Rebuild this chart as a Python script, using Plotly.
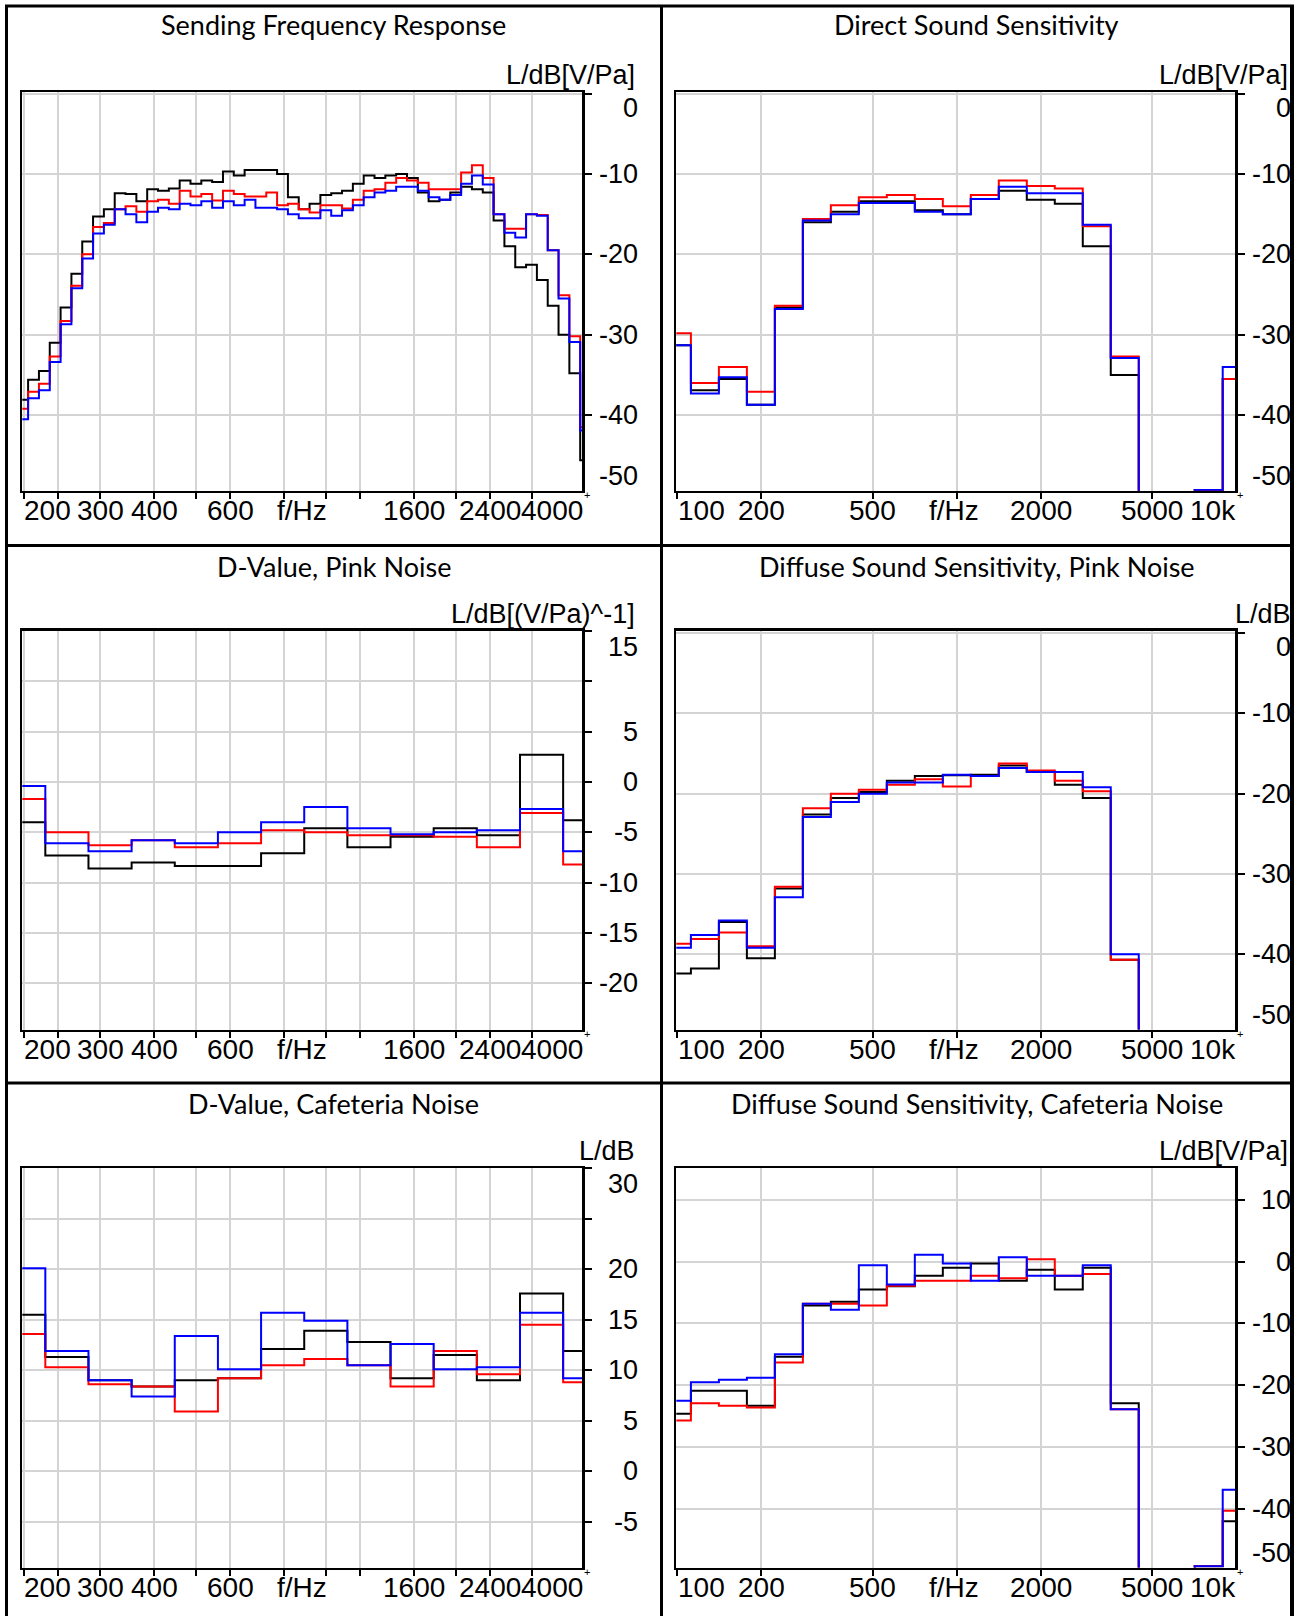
import math
import plotly.graph_objects as go

W, H = 1294, 1616

# ---------------- data ----------------
# Panel 1: Sending Frequency Response, 1/12-octave bands (centre = 1000*2^(k/12))
sfr_band_k = list(range(-28, 25))
sfr_black = [-38.1, -35.6, -34.5, -31.0, -26.6, -22.4, -18.4, -15.3, -14.4, -12.4,
             -12.5, -13.4, -11.9, -12.1, -11.8, -10.8, -11.2, -10.8, -11.0, -9.7,
             -10.2, -9.5, -9.5, -9.5, -10.0, -12.9, -14.4, -13.7, -12.6, -12.4,
             -12.1, -11.2, -10.2, -10.5, -10.2, -10.0, -10.5, -12.3, -13.4, -13.2,
             -12.3, -11.6, -11.9, -12.3, -15.8, -19.0, -21.6, -21.3, -23.2, -26.4,
             -30.0, -34.8, -45.6]
sfr_red = [-39.2, -37.1, -36.1, -32.7, -28.3, -23.9, -20.0, -16.6, -16.1, -14.4,
           -14.0, -14.7, -13.4, -13.2, -13.7, -12.1, -12.8, -12.5, -13.3, -12.1,
           -12.5, -12.8, -12.8, -12.3, -13.9, -13.7, -14.4, -14.8, -13.9, -13.9,
           -14.3, -13.2, -12.1, -11.9, -11.1, -10.5, -10.8, -11.1, -11.9, -11.9,
           -11.9, -9.8, -8.9, -10.5, -15.0, -16.8, -16.8, -15.0, -15.1, -19.5,
           -25.1, -30.2, -41.5]
sfr_blue = [-40.5, -37.9, -36.9, -33.4, -28.7, -24.2, -20.5, -17.4, -16.3, -14.4,
            -15.0, -16.0, -14.7, -14.2, -14.4, -13.7, -13.9, -13.4, -14.2, -13.4,
            -13.9, -13.2, -14.2, -14.2, -14.4, -15.0, -15.5, -15.5, -14.5, -15.2,
            -14.5, -13.9, -12.9, -12.3, -12.1, -11.6, -11.6, -12.1, -12.9, -13.2,
            -12.6, -11.2, -10.2, -11.3, -15.0, -17.3, -17.9, -15.0, -15.2, -19.5,
            -25.5, -30.9, -41.9]

# 1/3-octave band centres
bands_narrow = [200, 250, 315, 400, 500, 630, 800, 1000, 1250, 1600, 2000, 2500, 3150, 4000]
bands_wide = [100, 125, 160, 200, 250, 315, 400, 500, 630, 800, 1000, 1250, 1600,
              2000, 2500, 3150, 4000, 5000, 6300, 8000, 10000]

# Panel 2: Direct Sound Sensitivity (-80 = below the axis floor)
dss_black = [-31.3, -36.9, -35.5, -38.7, -26.6, -16.0, -14.7, -13.4, -13.4, -14.5, -15.0,
             -13.1, -12.1, -13.2, -13.7, -19.0, -35.0, -80, -80, -49.3, -35.5]
dss_red = [-29.8, -36.0, -34.0, -37.1, -26.4, -15.6, -13.9, -12.9, -12.6, -13.1, -14.0,
           -12.6, -10.8, -11.5, -11.8, -16.5, -32.7, -80, -80, -49.3, -35.5]
dss_blue = [-31.3, -37.3, -35.3, -38.7, -26.8, -15.8, -15.0, -13.6, -13.6, -14.7, -15.0,
            -13.1, -11.6, -12.4, -12.4, -16.3, -32.9, -80, -80, -49.3, -34.0]

# Panel 3: D-Value, Pink Noise
dpk_black = [-4.0, -7.3, -8.6, -8.0, -8.35, -8.35, -7.1, -4.6, -6.5, -5.45, -4.6, -5.3, 2.7, -3.8]
dpk_red = [-1.7, -5.0, -6.3, -5.8, -6.5, -6.1, -4.8, -5.0, -5.3, -5.3, -5.45, -6.5, -3.1, -8.2]
dpk_blue = [-0.4, -6.1, -6.9, -5.8, -6.1, -5.0, -4.0, -2.5, -4.6, -5.2, -5.0, -4.8, -2.7, -6.9]

# Panel 4: Diffuse Sound Sensitivity, Pink Noise
dfp_black = [-42.4, -41.8, -36.0, -40.5, -31.8, -22.6, -20.55, -19.8, -18.4, -17.8, -17.7,
             -17.65, -16.5, -17.3, -18.9, -20.55, -40.7, -80, -80, -80, -80]
dfp_red = [-38.7, -38.1, -37.3, -39.0, -31.6, -21.8, -20.0, -19.5, -18.9, -18.2, -19.1,
           -17.8, -16.25, -17.1, -18.4, -19.7, -40.7, -80, -80, -80, -80]
dfp_blue = [-39.2, -37.6, -35.8, -39.2, -32.9, -22.9, -21.05, -20.0, -18.6, -18.6, -17.65,
            -17.8, -16.8, -17.3, -17.3, -19.2, -40.0, -80, -80, -80, -80]

# Panel 5: D-Value, Cafeteria Noise
dcf_black = [15.5, 11.3, 9.0, 8.4, 9.0, 9.2, 12.1, 13.9, 12.8, 9.2, 11.5, 9.0, 17.6, 11.9]
dcf_red = [13.6, 10.3, 8.6, 8.4, 5.9, 9.2, 10.5, 11.1, 10.5, 8.4, 11.9, 9.6, 14.5, 8.8]
dcf_blue = [20.1, 11.9, 9.0, 7.4, 13.4, 10.1, 15.7, 14.9, 10.5, 12.6, 10.1, 10.3, 15.7, 9.2]

# Panel 6: Diffuse Sound Sensitivity, Cafeteria Noise
dfc_black = [-24.6, -20.9, -20.9, -23.3, -15.4, -7.1, -6.5, -4.5, -4.0, -2.3, -1.0, -0.3,
             -3.1, -1.3, -4.5, -1.0, -22.9, -80, -80, -49.3, -42.0]
dfc_red = [-25.7, -22.9, -23.3, -23.6, -16.3, -6.8, -6.8, -7.1, -3.9, -3.1, -3.1, -2.3,
           -2.7, 0.4, -2.3, -2.0, -23.9, -80, -80, -49.3, -40.3]
dfc_blue = [-22.5, -19.5, -19.1, -18.8, -15.0, -6.8, -7.8, -0.6, -3.7, 1.1, -0.3, -3.1,
            0.7, -2.3, -2.3, -0.6, -23.9, -80, -80, -49.3, -36.9]

titles = ["Sending Frequency Response", "Direct Sound Sensitivity",
          "D-Value, Pink Noise", "Diffuse Sound Sensitivity, Pink Noise",
          "D-Value, Cafeteria Noise", "Diffuse Sound Sensitivity, Cafeteria Noise"]
unit_labels = ["L/dB[V/Pa]", "L/dB[V/Pa]", "L/dB[(V/Pa)^-1]", "L/dB[V/Pa]",
               "L/dB", "L/dB[V/Pa]"]

# x axes
narrow_range_hz = [198, 3930]
narrow_grid_hz = [200, 240, 300, 400, 500, 600, 800, 1000, 1200, 1600, 2000, 2400, 3000]
narrow_label_hz = [200, 300, 400, 600, 880, 1600, 2400, 4000]
narrow_label_txt = ["200", "300", "400", "600", "f/Hz", "1600", "2400", "4000"]
wide_range_hz = [99.5, 9860]
wide_grid_hz = [100, 200, 500, 1000, 2000, 5000]
wide_label_hz = [100, 200, 500, 975, 2000, 5000, 10000]
wide_label_txt = ["100", "200", "500", "f/Hz", "2000", "5000", "10k"]

# y axes
y_ranges = [[-49.4, 0.2], [-49.4, 0.2], [-24.6, 15], [-49.4, 0.3], [-9.55, 30], [-49.5, 15.1]]
y_ticks = [[0, -10, -20, -30, -40], [0, -10, -20, -30, -40],
           [15, 10, 5, 0, -5, -10, -15, -20], [0, -10, -20, -30, -40],
           [30, 25, 20, 15, 10, 5, 0, -5], [10, 0, -10, -20, -30, -40]]
y_labels = [[0, -10, -20, -30, -40, -50], [0, -10, -20, -30, -40, -50],
            [15, 5, 0, -5, -10, -15, -20], [0, -10, -20, -30, -40, -50],
            [30, 20, 15, 10, 5, 0, -5], [10, 0, -10, -20, -30, -40, -50]]

# ---------------- helpers ----------------
def twelfth_edges(ks):
    lo = [1000 * 2 ** ((k - 0.5) / 12) for k in ks]
    return lo + [1000 * 2 ** ((ks[-1] + 0.5) / 12)]

def third_edges(fcs):
    ns = [round(10 * math.log10(f)) for f in fcs]
    lo = [10 ** ((n - 0.5) / 10) for n in ns]
    return lo + [10 ** ((ns[-1] + 0.5) / 10)]

series = [
    (twelfth_edges(sfr_band_k), [sfr_black, sfr_red, sfr_blue]),
    (third_edges(bands_wide), [dss_black, dss_red, dss_blue]),
    (third_edges(bands_narrow), [dpk_black, dpk_red, dpk_blue]),
    (third_edges(bands_wide), [dfp_black, dfp_red, dfp_blue]),
    (third_edges(bands_narrow), [dcf_black, dcf_red, dcf_blue]),
    (third_edges(bands_wide), [dfc_black, dfc_red, dfc_blue]),
]
colors = ["#000000", "#ff0000", "#0000ff"]

cols_px = [(22.3, 582.3), (676.3, 1235.0)]
rows_px = [(92.0, 490.7), (630.8, 1029.6), (1168.3, 1567.6)]

FONT_X = "Liberation Sans, Arial, sans-serif"
FONT_Y = "Liberation Sans, Arial, sans-serif"
FONT_T = "Lato, Noto Sans, sans-serif"

fig = go.Figure()
layout = dict(width=W, height=H, margin=dict(l=0, r=0, t=0, b=0),
              paper_bgcolor="white", plot_bgcolor="white", showlegend=False)
annotations = []
shapes = []

for i in range(6):
    r, c = divmod(i, 2)
    n = i + 1
    xs = "" if n == 1 else str(n)
    x0, x1 = cols_px[c]
    top, bot = rows_px[r]
    edges, ys = series[i]
    for yv, col in zip(ys, colors):
        fig.add_trace(go.Scatter(x=edges, y=list(yv) + [yv[-1]], mode="lines",
                                 line=dict(color=col, width=2, shape="hv"),
                                 xaxis="x" + xs, yaxis="y" + xs, hoverinfo="skip"))
    narrow = (c == 0)
    xr = narrow_range_hz if narrow else wide_range_hz
    grid = narrow_grid_hz if narrow else wide_grid_hz
    layout["xaxis" + xs] = dict(
        type="log", range=[math.log10(xr[0]), math.log10(xr[1])],
        domain=[x0 / W, x1 / W], anchor="y" + xs,
        tickmode="array", tickvals=grid, showticklabels=False,
        ticks="outside", ticklen=6, tickwidth=2, tickcolor="black",
        showgrid=True, gridcolor="#d4d4d4", gridwidth=2,
        showline=True, mirror=True, linecolor="black", linewidth=2.5,
        zeroline=False, fixedrange=True)
    yr = y_ranges[i]
    layout["yaxis" + xs] = dict(
        range=yr, domain=[1 - bot / H, 1 - top / H], anchor="x" + xs, side="right",
        tickmode="array", tickvals=y_ticks[i], showticklabels=False,
        ticks="outside", ticklen=7, tickwidth=2, tickcolor="black",
        showgrid=True, gridcolor="#d4d4d4", gridwidth=2,
        showline=True, mirror=True, linecolor="black", linewidth=2.5,
        zeroline=False, fixedrange=True)

    # y tick labels (right aligned, clamped inside the plot height)
    ppd = (bot - top) / (yr[1] - yr[0])
    hi_lim = yr[1] - 16 / ppd
    lo_lim = yr[0] + 15 / ppd
    for v in y_labels[i]:
        vv = min(max(v, lo_lim), hi_lim)
        annotations.append(dict(
            x=1, xref="x" + xs + " domain", xshift=58, xanchor="right",
            y=vv, yref="y" + xs, yanchor="middle", text=str(v), showarrow=False,
            font=dict(family=FONT_Y, size=27, color="black")))

    # x tick labels
    lhz = narrow_label_hz if narrow else wide_label_hz
    ltx = narrow_label_txt if narrow else wide_label_txt
    for j, (hz, tx) in enumerate(zip(lhz, ltx)):
        if j == 0:
            ax = dict(x=0, xref="x" + xs + " domain", xanchor="left")
        elif j == len(lhz) - 1:
            ax = dict(x=1, xref="x" + xs + " domain", xanchor="right", xshift=3)
        else:
            ax = dict(x=math.log10(hz), xref="x" + xs, xanchor="center")
        ax.update(y=0, yref="y" + xs + " domain", yshift=-20, yanchor="middle",
                  text=tx, showarrow=False,
                  font=dict(family=FONT_X, size=28, color="black"))
        annotations.append(ax)

    # small "+" end mark at the x-axis end
    annotations.append(dict(x=1, xref="x" + xs + " domain", xshift=5, xanchor="center",
                            y=0, yref="y" + xs + " domain", yshift=-4, yanchor="middle",
                            text="+", showarrow=False,
                            font=dict(family=FONT_Y, size=11, color="black")))

    # unit label
    if i == 3:
        annotations.append(dict(x=1, xref="x" + xs + " domain", xshift=-2, xanchor="left",
                                y=1, yref="y" + xs + " domain", yshift=17, yanchor="middle",
                                text=unit_labels[i], showarrow=False,
                                font=dict(family=FONT_Y, size=27, color="black")))
    else:
        annotations.append(dict(x=1, xref="x" + xs + " domain", xshift=55, xanchor="right",
                                y=1, yref="y" + xs + " domain", yshift=17, yanchor="middle",
                                text=unit_labels[i], showarrow=False,
                                font=dict(family=FONT_Y, size=27, color="black")))

    # title
    cell_cx = [333.5, 976.5][c]
    title_cy = [25.0, 566.0, 1103.0][r]
    annotations.append(dict(x=cell_cx / W, xref="paper", y=1 - title_cy / H, yref="paper",
                            xanchor="center", yanchor="middle", text=titles[i],
                            showarrow=False,
                            font=dict(family=FONT_T, size=27, color="black", weight=400)))

# frame lines (pixel positions -> paper)
def hline(y, xa, xb, w=3):
    shapes.append(dict(type="line", xref="paper", yref="paper", x0=xa / W, x1=xb / W,
                       y0=1 - y / H, y1=1 - y / H, line=dict(color="black", width=w)))

def vline(x, ya, yb, w=3):
    shapes.append(dict(type="line", xref="paper", yref="paper", x0=x / W, x1=x / W,
                       y0=1 - ya / H, y1=1 - yb / H, line=dict(color="black", width=w)))

vline(6.5, 5, H)
vline(661.5, 5, H)
vline(1292, 5, H, 4)
hline(6, 5, 1294)
hline(545.5, 5, 1294)
hline(1083, 5, 1294)

layout["annotations"] = annotations
layout["shapes"] = shapes
fig.update_layout(**layout)

fig.write_html("out.html", config={"staticPlot": True},
               post_script="document.body.style.margin='0px';")
